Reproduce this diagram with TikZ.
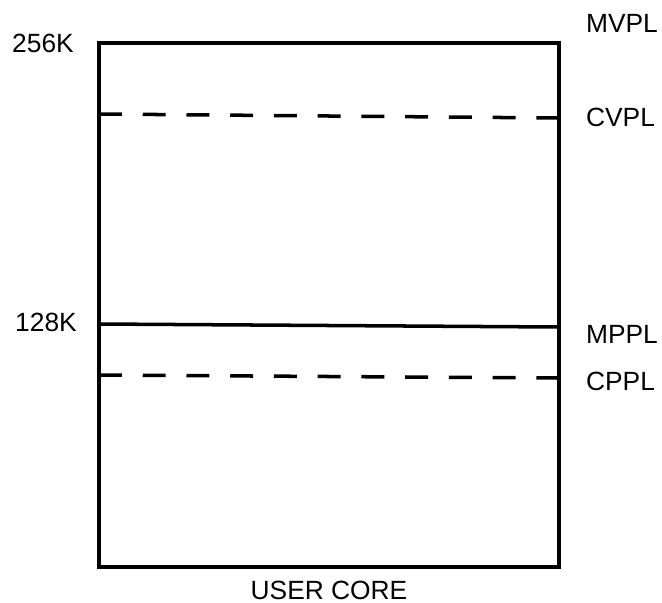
\documentclass[tikz,border=0pt]{standalone}
\usepackage{fontspec}
\setmainfont{Liberation Sans}
\usetikzlibrary{positioning}

\begin{document}
\begin{tikzpicture}[
        x=0.02cm, y=-0.02cm,
        lbl/.style={font=\fontsize{15}{17}\selectfont, inner sep=1pt},
        wall/.style={draw, line width=2.2pt},
        limit/.style={draw, line width=2pt},
        softlimit/.style={draw, line width=2pt, dash pattern=on 13pt off 11.9pt}
        ]
        \useasboundingbox (0,0) rectangle (662,602);
        \path[wall] (99,43) rectangle (559,567);
        \path[softlimit] (99,114) -- (559,118);
        \path[limit] (99,324) -- (559,327);
        \path[softlimit] (99,375) -- (559,378);

        \node[lbl] (top) at (43,43) {256K};
        \node[lbl] (mid) at (46,322) {128K};
        \node[lbl, anchor=west] (mvpl) at (584,23) {MVPL};
        \node[lbl, anchor=west] (cvpl) at (584,117) {CVPL};
        \node[lbl, anchor=west] (mppl) at (584,334) {MPPL};
        \node[lbl, anchor=west] (cppl) at (584,381) {CPPL};
        \node[lbl] (core) at (329,590) {USER CORE};
      \end{tikzpicture}
\end{document}
